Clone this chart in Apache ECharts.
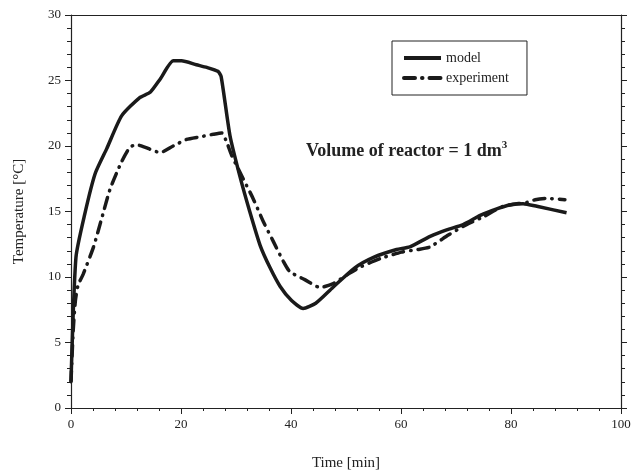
<!DOCTYPE html>
<html><head><meta charset="utf-8">
<script src="https://cdn.jsdelivr.net/npm/echarts@6/dist/echarts.min.js"></script>
<style>html,body{margin:0;padding:0;background:#fff}#c{width:634px;height:476px}</style>
</head><body><div id="c"></div>
<script>
const modelTime = [0, 0.9, 2.5, 4.4, 6.5, 9.2, 12.5, 14.4, 16.2, 18.6, 20.1, 22.8, 24.7, 26.7, 27.3, 28.9, 30.7, 32.5, 34.4, 36.2, 38, 40.1, 42.2, 44.5, 47.6, 51.6, 55, 59.2, 61.6, 65.3, 68.3, 71.3, 74.4, 77.4, 79.8, 82.2, 84.7, 90.1];
const modelTemp = [2.0, 11.5, 14.8, 17.9, 19.8, 22.3, 23.7, 24.1, 25.1, 26.5, 26.5, 26.2, 26.0, 25.7, 25.3, 20.8, 17.7, 15.0, 12.4, 10.7, 9.3, 8.2, 7.6, 8.0, 9.2, 10.7, 11.5, 12.1, 12.3, 13.1, 13.6, 14.0, 14.7, 15.2, 15.5, 15.6, 15.4, 14.9];
const expTime = [0, 0.4, 0.8, 1.3, 2.2, 4.1, 5.6, 7.1, 9.2, 10.7, 11.9, 13.5, 16.2, 18.6, 21, 23.5, 25.9, 27.4, 28.3, 29.2, 31.3, 33.1, 35, 36.8, 38.6, 39.8, 42.5, 45.3, 47.7, 50.7, 52.8, 56.2, 60.1, 63.1, 65.3, 68.6, 71.9, 75, 78.6, 82.9, 84.4, 86.5, 89.8];
const expTemp = [2.0, 5.9, 8.2, 9.4, 10.2, 12.3, 14.5, 16.7, 18.8, 19.9, 20.1, 19.9, 19.5, 20.0, 20.5, 20.7, 20.9, 21.0, 20.3, 19.3, 17.5, 16.0, 14.2, 12.7, 11.2, 10.4, 9.8, 9.2, 9.5, 10.3, 10.8, 11.4, 11.9, 12.1, 12.3, 13.2, 14.0, 14.6, 15.4, 15.7, 15.9, 16.0, 15.9];
const xTicks = [0, 20, 40, 60, 80, 100];
const yTicks = [0, 5, 10, 15, 20, 25, 30];

const font = 'Liberation Serif';
const chart = echarts.init(document.getElementById('c'));
const pair = (xs, ys) => xs.map((x, i) => [x, ys[i]]);
const axisCommon = {
  axisLine: {show: true, onZero: false, lineStyle: {color: '#222', width: 1.2}},
  splitLine: {show: false},
};
chart.setOption({
  animation: false,
  backgroundColor: '#fff',
  grid: {left: 71, right: 13, top: 15, bottom: 65},
  title: {
    text: '{a|Volume of reactor = 1 dm}{b|3}',
    left: 301, top: 135,
    textStyle: {rich: {
      a: {fontFamily: font, fontWeight: 'bold', fontSize: 18, color: '#222'},
      b: {fontFamily: font, fontWeight: 'bold', fontSize: 11, color: '#222', verticalAlign: 'top', padding: [0, 0, 12, 0]}
    }}
  },
  legend: {
    orient: 'vertical', left: 392, top: 41, width: 135,
    padding: [10, 18, 10, 10], itemGap: 6,
    borderColor: '#222', borderWidth: 1,
    itemWidth: 37, itemHeight: 14,
    itemStyle: {opacity: 0},
    lineStyle: {width: 4},
    textStyle: {fontFamily: font, fontSize: 14, color: '#222'},
    data: ['model', 'experiment']
  },
  xAxis: [{
    ...axisCommon, type: 'value', min: 0, max: 100, interval: 20, position: 'bottom',
    axisTick: {show: true, inside: false, length: 6, lineStyle: {color: '#222'}},
    minorTick: {show: true, splitNumber: 5, length: 3, lineStyle: {color: '#222'}},
    axisLabel: {fontFamily: font, fontSize: 13, color: '#222', margin: 10, formatter: v => xTicks.includes(v) ? String(v) : ''},
    name: 'Time [min]', nameLocation: 'middle', nameGap: 48,
    nameTextStyle: {fontFamily: font, fontSize: 15, color: '#222'}
  }, {
    ...axisCommon, type: 'value', min: 0, max: 100, position: 'top',
    axisTick: {show: false}, axisLabel: {show: false}
  }],
  yAxis: [{
    ...axisCommon, type: 'value', min: 0, max: 30, interval: 5, position: 'left',
    axisTick: {show: true, inside: false, length: 6, lineStyle: {color: '#222'}},
    minorTick: {show: true, splitNumber: 5, length: 4, lineStyle: {color: '#222'}},
    axisLabel: {fontFamily: font, fontSize: 13, color: '#222', margin: 10, formatter: v => yTicks.includes(v) ? String(v) : ''},
    name: 'Temperature [°C]', nameLocation: 'middle', nameGap: 44, nameRotate: 90,
    nameTextStyle: {fontFamily: font, fontSize: 15, color: '#222'}
  }, {
    ...axisCommon, type: 'value', min: 0, max: 30, interval: 5, position: 'right',
    axisTick: {show: true, inside: false, length: 6, lineStyle: {color: '#222'}},
    minorTick: {show: true, splitNumber: 5, length: 4, lineStyle: {color: '#222'}},
    axisLabel: {show: false}
  }],
  series: [{
    name: 'model', type: 'line', showSymbol: false, symbol: 'none', smooth: 0.2,
    data: pair(modelTime, modelTemp),
    lineStyle: {color: '#1a1a1a', width: 3.5},
    itemStyle: {color: '#1a1a1a'}
  }, {
    name: 'experiment', type: 'line', showSymbol: false, symbol: 'none', smooth: 0.2,
    data: pair(expTime, expTemp),
    lineStyle: {color: '#1a1a1a', width: 3.5, type: [11, 7, 0.5, 7], cap: 'round'},
    itemStyle: {color: '#1a1a1a'}
  }]
});
</script></body></html>
